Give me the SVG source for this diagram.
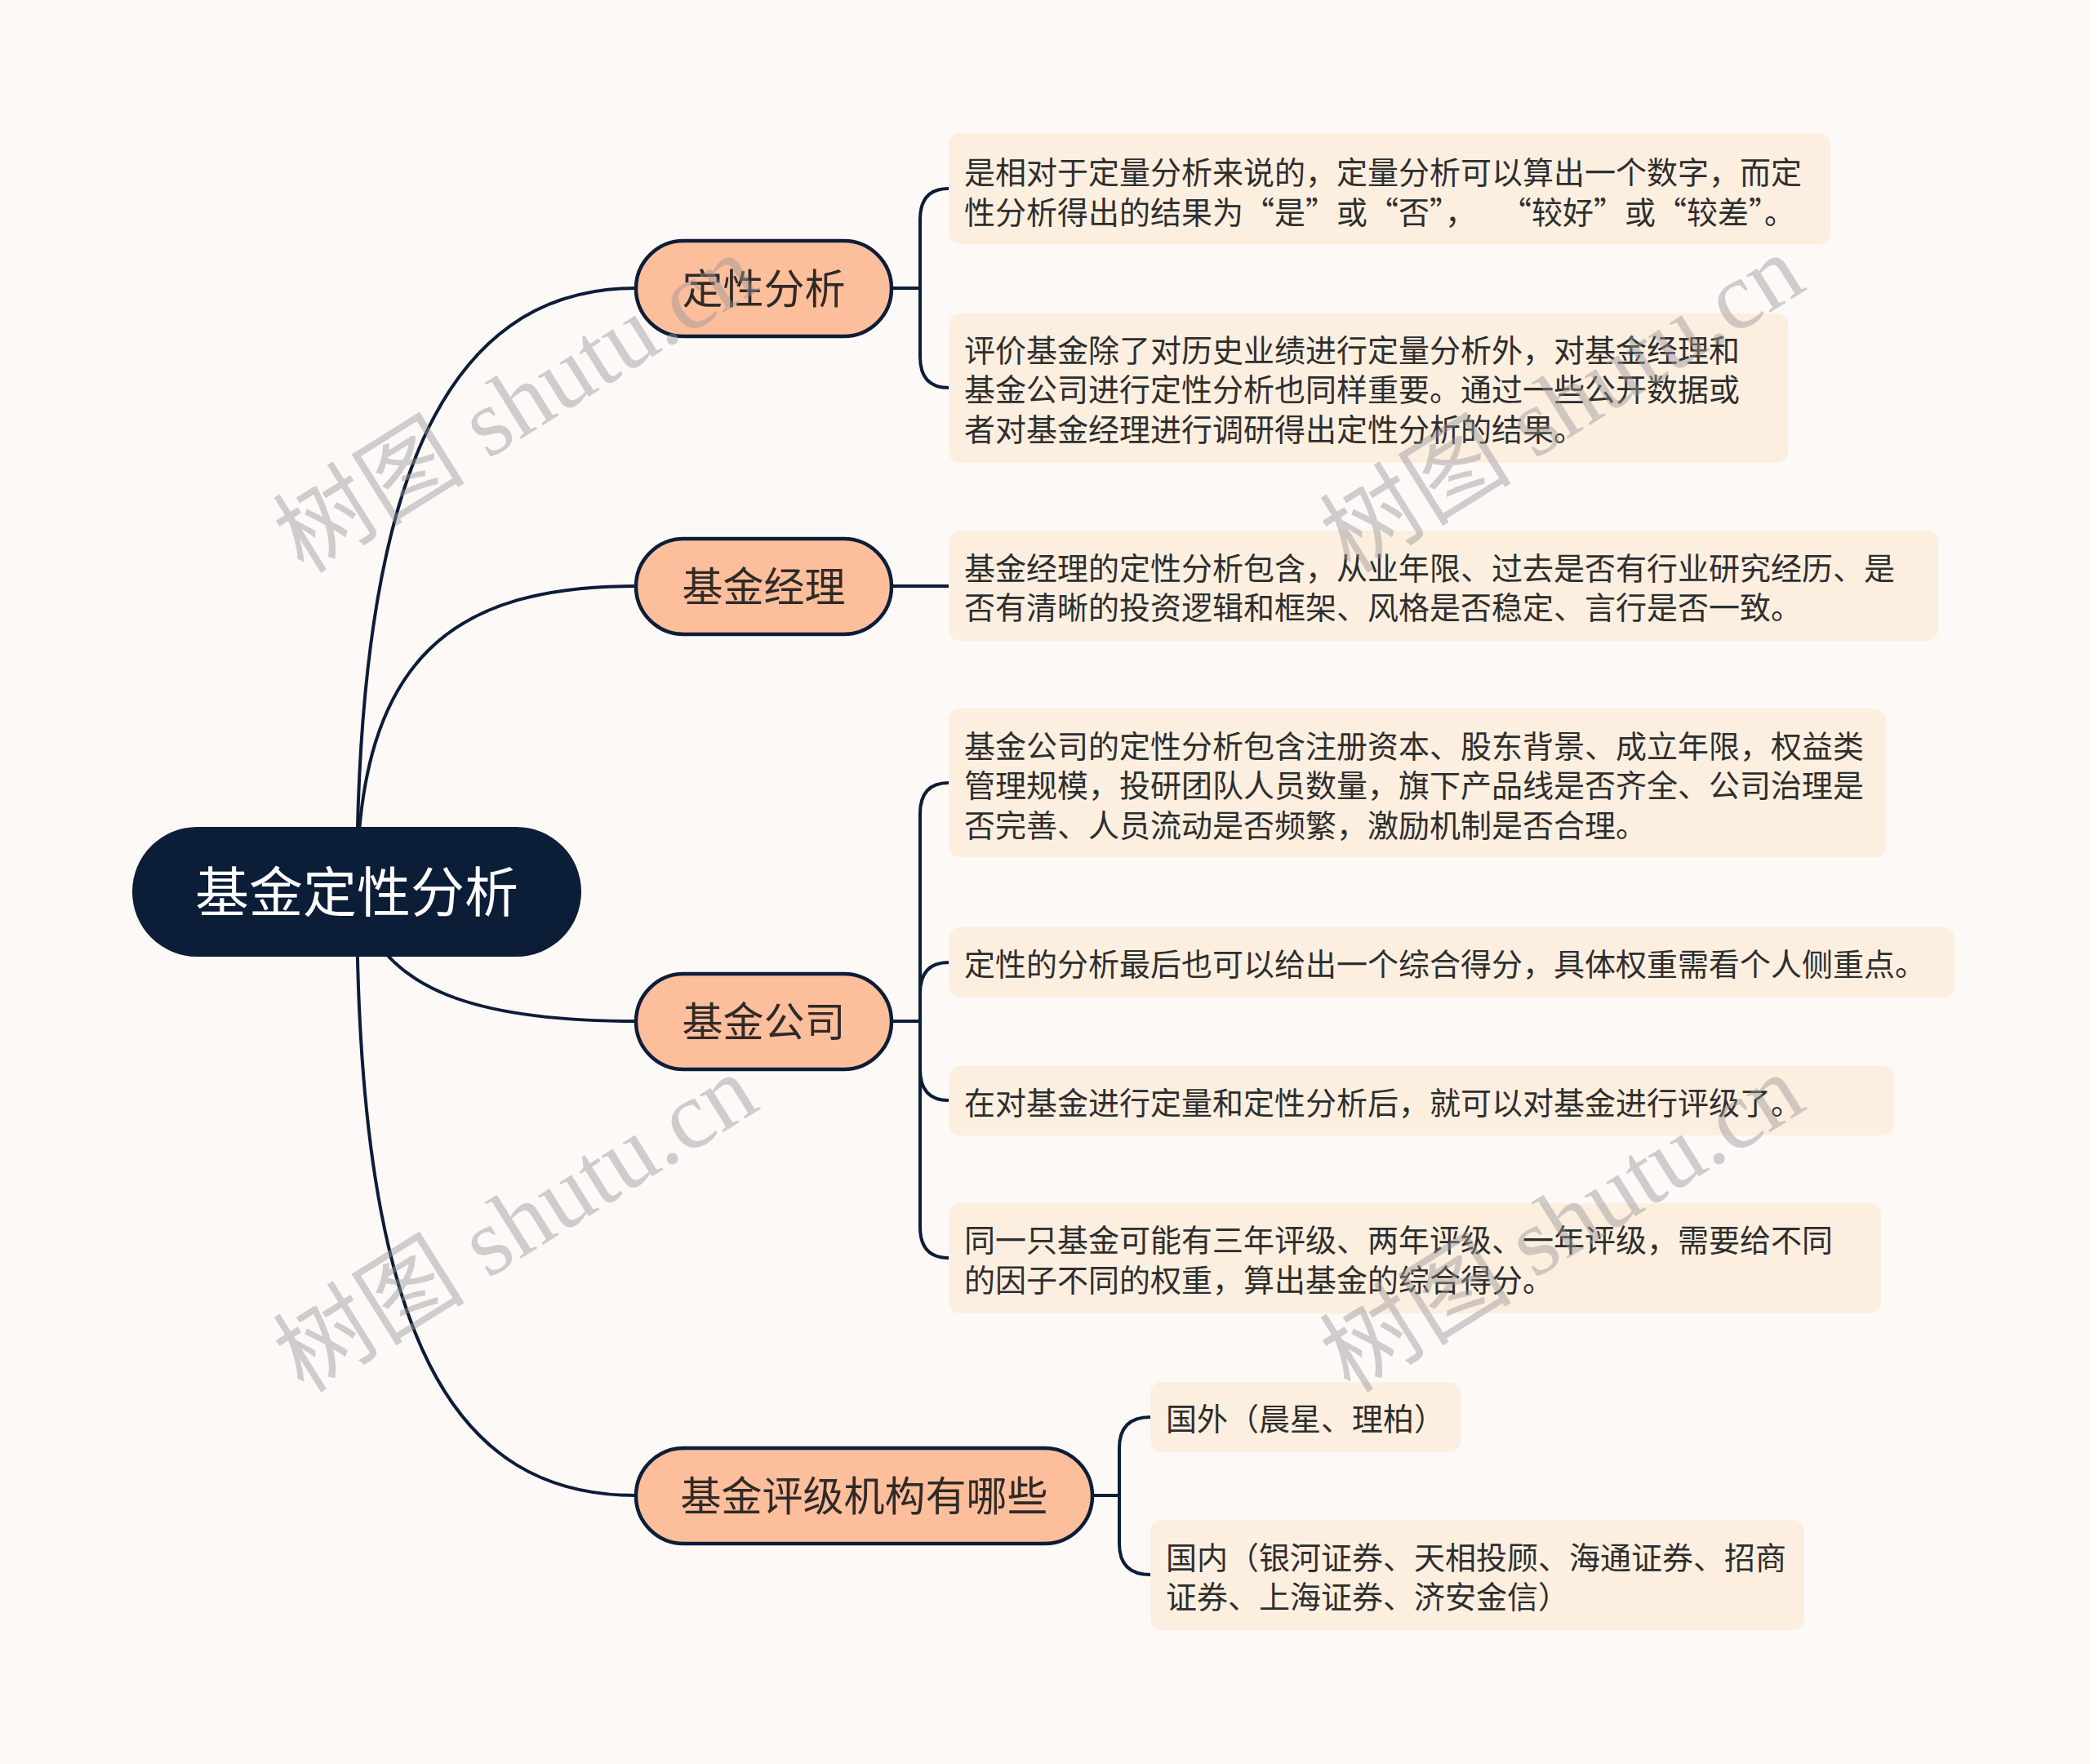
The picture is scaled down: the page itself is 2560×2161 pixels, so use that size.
<svg xmlns="http://www.w3.org/2000/svg" width="2560" height="2161" viewBox="0 0 2560 2161">
<style>
.bg{fill:#FDF9F7}
.ln{fill:none;stroke:#0C1D37;stroke-width:4;stroke-linecap:round}
.root{fill:#0C1D37}
.rt{font-family:"Noto Sans CJK SC",sans-serif;font-size:66px;fill:#FFFFFF;text-anchor:middle}
.n1{fill:#FDBE9C;stroke:#0C1D37;stroke-width:4.5}
.t1{font-family:"Noto Sans CJK SC",sans-serif;font-size:50px;fill:#302A27;text-anchor:middle}
.lf{fill:#FDEFE0}
.tl{font-family:"Noto Sans CJK SC",sans-serif;font-size:38px;fill:#2E2E2E}
.wm{font-size:118px;fill:#969696;fill-opacity:0.45}
.wm .c{font-family:"Noto Sans CJK SC",sans-serif}
.wm .l{font-family:"Liberation Serif",serif}
</style>
<rect class="bg" x="0" y="0" width="2560" height="2161"/>
<g id="connectors">
<path class="ln" d="M437,1092 C437,600 540,353 779,353"/>
<path class="ln" d="M437,1092 C437,800 560,718 779,718"/>
<path class="ln" d="M437,1092 C460,1220 600,1251 779,1251"/>
<path class="ln" d="M437,1092 C437,1650 560,1832 779,1832"/>
<path class="ln" d="M1092,353 L1127,353"/>
<path class="ln" d="M1127,353 L1127,269 Q1127,231 1162,231"/>
<path class="ln" d="M1127,353 L1127,437 Q1127,475 1162,475"/>
<path class="ln" d="M1092,718 L1162,718"/>
<path class="ln" d="M1092,1251 L1127,1251"/>
<path class="ln" d="M1127,1251 L1127,997 Q1127,959 1162,959"/>
<path class="ln" d="M1127,1251 L1127,1217 Q1127,1179 1162,1179"/>
<path class="ln" d="M1127,1251 L1127,1310 Q1127,1348 1162,1348"/>
<path class="ln" d="M1127,1251 L1127,1503 Q1127,1541 1162,1541"/>
<path class="ln" d="M1338,1832 L1371,1832"/>
<path class="ln" d="M1371,1832 L1371,1774 Q1371,1736 1409,1736"/>
<path class="ln" d="M1371,1832 L1371,1891 Q1371,1929 1409,1929"/>
</g>
<g id="root">
<rect class="root" x="162" y="1013" width="550" height="159" rx="79.5"/>
<text class="rt" x="437" y="1117">基金定性分析</text>
</g>
<g id="n-dingxing">
<rect class="n1" x="779" y="295" width="313" height="117" rx="58.5"/>
<text class="t1" x="935.5" y="372">定性分析</text>
</g>
<g id="n-jingli">
<rect class="n1" x="779" y="660" width="313" height="117" rx="58.5"/>
<text class="t1" x="935.5" y="737">基金经理</text>
</g>
<g id="n-gongsi">
<rect class="n1" x="779" y="1193" width="313" height="117" rx="58.5"/>
<text class="t1" x="935.5" y="1270">基金公司</text>
</g>
<g id="n-pingji">
<rect class="n1" x="779" y="1774" width="559" height="117" rx="58.5"/>
<text class="t1" x="1058.5" y="1851">基金评级机构有哪些</text>
</g>
<g id="leaf-1a">
<rect class="lf" x="1162" y="163" width="1080" height="136" rx="14"/>
<text class="tl"><tspan x="1181" y="225">是相对于定量分析来说的，定量分析可以算出一个数字，而定</tspan><tspan x="1181" y="273.5">性分析得出的结果为“是”或“否”，</tspan><tspan x="1838" y="273.5">“较好”或“较差”。</tspan></text>
</g>
<g id="leaf-1b">
<rect class="lf" x="1162" y="384" width="1028" height="183" rx="14"/>
<text class="tl"><tspan x="1181" y="442.5">评价基金除了对历史业绩进行定量分析外，对基金经理和</tspan><tspan x="1181" y="491">基金公司进行定性分析也同样重要。通过一些公开数据或</tspan><tspan x="1181" y="539.5">者对基金经理进行调研得出定性分析的结果。</tspan></text>
</g>
<g id="leaf-2">
<rect class="lf" x="1162" y="650" width="1212" height="135" rx="14"/>
<text class="tl"><tspan x="1181" y="709.5">基金经理的定性分析包含，从业年限、过去是否有行业研究经历、是</tspan><tspan x="1181" y="758">否有清晰的投资逻辑和框架、风格是否稳定、言行是否一致。</tspan></text>
</g>
<g id="leaf-3a">
<rect class="lf" x="1162" y="868" width="1148" height="182" rx="14"/>
<text class="tl"><tspan x="1181" y="927.5">基金公司的定性分析包含注册资本、股东背景、成立年限，权益类</tspan><tspan x="1181" y="976">管理规模，投研团队人员数量，旗下产品线是否齐全、公司治理是</tspan><tspan x="1181" y="1024.5">否完善、人员流动是否频繁，激励机制是否合理。</tspan></text>
</g>
<g id="leaf-3b">
<rect class="lf" x="1162" y="1136" width="1232" height="86" rx="14"/>
<text class="tl" x="1181" y="1195">定性的分析最后也可以给出一个综合得分，具体权重需看个人侧重点。</text>
</g>
<g id="leaf-3c">
<rect class="lf" x="1162" y="1306" width="1158" height="85" rx="14"/>
<text class="tl" x="1181" y="1364.5">在对基金进行定量和定性分析后，就可以对基金进行评级了。</text>
</g>
<g id="leaf-3d">
<rect class="lf" x="1162" y="1474" width="1142" height="135" rx="14"/>
<text class="tl"><tspan x="1181" y="1533">同一只基金可能有三年评级、两年评级、一年评级，需要给不同</tspan><tspan x="1181" y="1581.5">的因子不同的权重，算出基金的综合得分。</tspan></text>
</g>
<g id="leaf-4a">
<rect class="lf" x="1409" y="1693" width="380" height="86" rx="14"/>
<text class="tl" x="1428" y="1752">国外（晨星、理柏）</text>
</g>
<g id="leaf-4b">
<rect class="lf" x="1409" y="1862" width="801" height="135" rx="14"/>
<text class="tl"><tspan x="1428" y="1921.5">国内（银河证券、天相投顾、海通证券、招商</tspan><tspan x="1428" y="1970">证券、上海证券、济安金信）</tspan></text>
</g>
<g id="watermarks">
<text class="wm" transform="translate(372,704) rotate(-32)"><tspan class="c">树图</tspan><tspan class="l"> shutu.cn</tspan></text>
<text class="wm" transform="translate(1654,704) rotate(-32)"><tspan class="c">树图</tspan><tspan class="l"> shutu.cn</tspan></text>
<text class="wm" transform="translate(372,1708) rotate(-32)"><tspan class="c">树图</tspan><tspan class="l"> shutu.cn</tspan></text>
<text class="wm" transform="translate(1654,1708) rotate(-32)"><tspan class="c">树图</tspan><tspan class="l"> shutu.cn</tspan></text>
</g>
</svg>
